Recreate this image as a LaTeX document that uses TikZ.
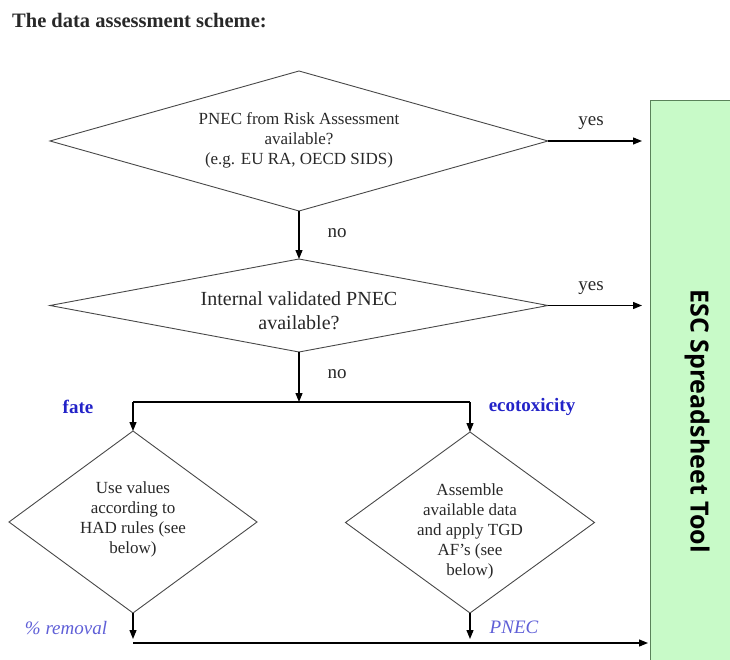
\documentclass[tikz,border=0pt]{standalone}
\usepackage{fontspec}
\setmainfont{Liberation Serif}
\newfontfamily\escfont{Open Sans}
\usetikzlibrary{shapes.geometric,arrows.meta}
\definecolor{boxfill}{RGB}{200,250,200}
\definecolor{boxdraw}{RGB}{90,130,90}
\definecolor{ink}{RGB}{40,40,40}
\definecolor{lblue}{RGB}{35,35,200}
\definecolor{iblue}{RGB}{95,95,215}
\begin{document}
\begin{tikzpicture}[x=1pt,y=-1pt,
  dia/.style={diamond,draw=ink!85,line width=0.9pt,inner sep=0pt,outer sep=0pt},
  txt/.style={align=center,text=ink,inner sep=0pt,font=\fontsize{17}{20}\selectfont},
  lab/.style={text=ink,inner sep=0pt,font=\fontsize{19}{22}\selectfont},
  blab/.style={text=lblue,inner sep=0pt,font=\fontsize{19}{22}\selectfont\bfseries},
  ilab/.style={text=iblue,inner sep=0pt,font=\fontsize{19}{22}\selectfont\itshape},
  arr/.style={draw=black,line width=1.2pt,-{Triangle[length=9pt,width=7pt]}},
  ln/.style={draw=black,line width=1.2pt}]
\useasboundingbox (0,0) rectangle (730,660);
\begin{scope}
\clip (0,0) rectangle (730,660);
\node[draw=boxdraw,fill=boxfill,line width=1pt,minimum width=90pt,minimum height=569pt,inner sep=0pt,outer sep=0pt] (esc) at (695,385.5) {};
\end{scope}
\node[rotate=-90,inner sep=0pt,font=\escfont\bfseries\fontsize{25}{28}\selectfont] (esct) at (697,421) {ESC Spreadsheet Tool};

\node[anchor=west,inner sep=0pt,text=ink,font=\fontsize{20.5}{24}\selectfont\bfseries] (title) at (12,21) {The data assessment scheme:};

\node[dia,minimum width=498pt,minimum height=140pt] (d1) at (299,141) {};
\node[txt] (t1) at (299,140) {PNEC from Risk Assessment\\available?\\(e.g. EU RA, OECD SIDS)};

\node[dia,minimum width=498pt,minimum height=93pt] (d2) at (299,305.5) {};
\node[txt,font=\fontsize{20}{24}\selectfont] (t2) at (299,311) {Internal validated PNEC\\available?};

\node[dia,minimum width=248pt,minimum height=182pt] (d3) at (133,522) {};
\node[txt] (t3) at (133,519) {Use values\\according to\\HAD rules (see\\below)};

\node[dia,minimum width=249pt,minimum height=181pt] (d4) at (470,522.5) {};
\node[txt] (t4) at (470,531) {Assemble\\available data\\and apply TGD\\AF's (see\\below)};

\coordinate (jm) at (299,402);
\coordinate (jl) at (133,402);
\coordinate (jr) at (470,402);
\coordinate (bl) at (133,643);

\draw[arr,shorten >=8pt] (d1.east) -- (d1.east -| esc.west);
\draw[arr,shorten >=8pt] (d2.east) -- (d2.east -| esc.west);
\draw[arr] (d1.south) -- (d2.north);
\draw[arr] (d2.south) -- (jm);
\draw[ln] (jl) -- (jr);
\draw[arr] (jl) -- (d3.north);
\draw[arr] (jr) -- (d4.north);
\draw[arr,shorten >=4pt] (d3.south) -- (bl);
\draw[arr,shorten >=4pt] (d4.south) -- (d4.south |- bl);
\draw[arr,shorten >=2pt] (bl) -- (bl -| esc.west);

\node[lab] (yes1) at (591,123) {yes};
\node[lab] (yes2) at (591,288) {yes};
\node[lab] (no1) at (337,233) {no};
\node[lab] (no2) at (337,374) {no};
\node[blab] (fate) at (78,407) {fate};
\node[blab] (eco) at (532,407) {ecotoxicity};
\node[ilab] (rem) at (66,628) {\% removal};
\node[ilab] (pnec) at (514,627) {PNEC};
\end{tikzpicture}
\end{document}
